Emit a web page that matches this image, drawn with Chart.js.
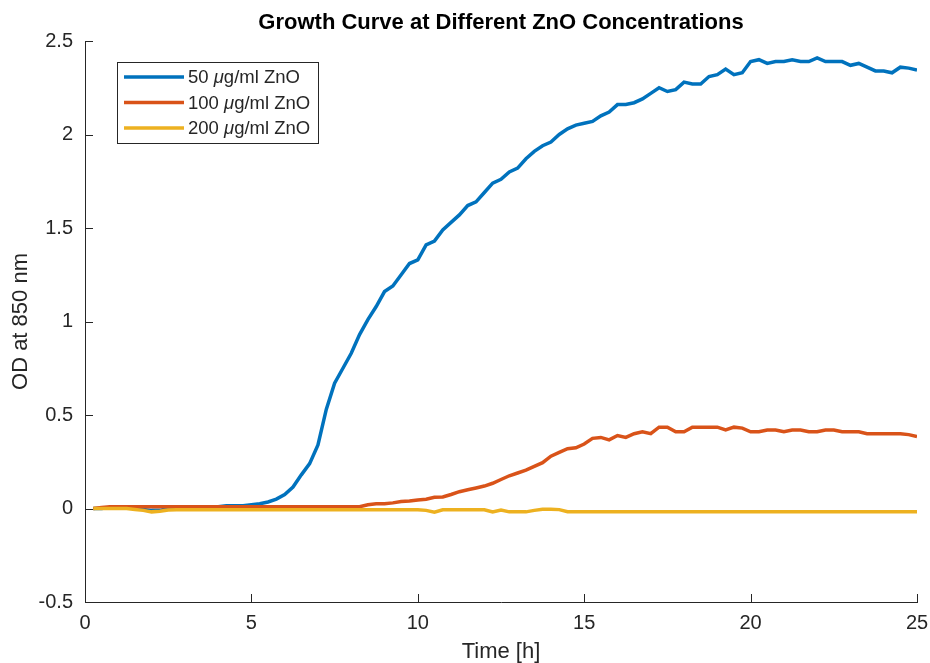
<!DOCTYPE html>
<html>
<head>
<meta charset="utf-8">
<title>Growth Curve</title>
<script src="https://cdn.jsdelivr.net/npm/chart.js@4/dist/chart.umd.min.js"></script>
<style>
    html, body { margin: 0; padding: 0; background: #fff; }
    #wrap { width: 930px; height: 663px; }
</style>
</head>
<body>
<div id="wrap"><canvas id="growthChart" width="930" height="663"></canvas></div>
<script>
// Sampling times (h), every 15 minutes
const hours = [
    0.25, 0.5, 0.75, 1, 1.25, 1.5, 1.75, 2, 2.25, 2.5,
    2.75, 3, 3.25, 3.5, 3.75, 4, 4.25, 4.5, 4.75, 5,
    5.25, 5.5, 5.75, 6, 6.25, 6.5, 6.75, 7, 7.25, 7.5,
    7.75, 8, 8.25, 8.5, 8.75, 9, 9.25, 9.5, 9.75, 10,
    10.25, 10.5, 10.75, 11, 11.25, 11.5, 11.75, 12, 12.25, 12.5,
    12.75, 13, 13.25, 13.5, 13.75, 14, 14.25, 14.5, 14.75, 15,
    15.25, 15.5, 15.75, 16, 16.25, 16.5, 16.75, 17, 17.25, 17.5,
    17.75, 18, 18.25, 18.5, 18.75, 19, 19.25, 19.5, 19.75, 20,
    20.25, 20.5, 20.75, 21, 21.25, 21.5, 21.75, 22, 22.25, 22.5,
    22.75, 23, 23.25, 23.5, 23.75, 24, 24.25, 24.5, 24.75, 25
];

// OD at 850 nm, 50 ug/ml ZnO
const od50 = [
    0, 0, 0.005, 0.01, 0.01, 0.005, -0.005, -0.01, -0.01, 0,
    0.005, 0.01, 0.01, 0.01, 0.01, 0.01, 0.015, 0.015, 0.015, 0.02,
    0.025, 0.035, 0.05, 0.075, 0.115, 0.18, 0.24, 0.34, 0.53, 0.67,
    0.75, 0.83, 0.93, 1.01, 1.08, 1.16, 1.19, 1.25, 1.31, 1.33,
    1.41, 1.43, 1.49, 1.53, 1.57, 1.62, 1.64, 1.69, 1.74, 1.76,
    1.80, 1.82, 1.87, 1.91, 1.94, 1.96, 2.00, 2.03, 2.05, 2.06,
    2.07, 2.10, 2.12, 2.16, 2.16, 2.17, 2.19, 2.22, 2.25, 2.23,
    2.24, 2.28, 2.27, 2.27, 2.31, 2.32, 2.35, 2.32, 2.33, 2.39,
    2.40, 2.38, 2.39, 2.39, 2.40, 2.39, 2.39, 2.41, 2.39, 2.39,
    2.39, 2.37, 2.38, 2.36, 2.34, 2.34, 2.33, 2.36, 2.355, 2.345
];

// OD at 850 nm, 100 ug/ml ZnO
const od100 = [
    0, 0.005, 0.01, 0.01, 0.01, 0.01, 0.01, 0.01, 0.01, 0.01,
    0.01, 0.01, 0.01, 0.01, 0.01, 0.01, 0.01, 0.01, 0.01, 0.01,
    0.01, 0.01, 0.01, 0.01, 0.01, 0.01, 0.01, 0.01, 0.01, 0.01,
    0.01, 0.01, 0.01, 0.02, 0.025, 0.025, 0.03, 0.037, 0.04, 0.046,
    0.05, 0.06, 0.062, 0.075, 0.09, 0.10, 0.11, 0.12, 0.135, 0.155,
    0.175, 0.19, 0.205, 0.225, 0.245, 0.28, 0.30, 0.32, 0.325, 0.345,
    0.375, 0.38, 0.367, 0.39, 0.38, 0.40, 0.41, 0.40, 0.435, 0.435,
    0.41, 0.41, 0.435, 0.435, 0.435, 0.435, 0.42, 0.435, 0.43, 0.41,
    0.41, 0.42, 0.42, 0.41, 0.42, 0.42, 0.41, 0.41, 0.42, 0.42,
    0.41, 0.41, 0.41, 0.40, 0.40, 0.40, 0.40, 0.40, 0.395, 0.385
];

// OD at 850 nm, 200 ug/ml ZnO
const od200 = [
    0, 0, 0, 0, 0, -0.005, -0.01, -0.018, -0.015, -0.008,
    -0.007, -0.007, -0.007, -0.007, -0.007, -0.007, -0.007, -0.007, -0.007, -0.007,
    -0.007, -0.007, -0.007, -0.007, -0.007, -0.007, -0.007, -0.007, -0.007, -0.007,
    -0.007, -0.007, -0.007, -0.007, -0.007, -0.007, -0.007, -0.007, -0.007, -0.007,
    -0.01, -0.02, -0.007, -0.007, -0.007, -0.007, -0.007, -0.007, -0.018, -0.008,
    -0.018, -0.018, -0.018, -0.01, -0.004, -0.004, -0.006, -0.017, -0.017, -0.017,
    -0.017, -0.017, -0.017, -0.017, -0.017, -0.017, -0.017, -0.017, -0.017, -0.017,
    -0.017, -0.017, -0.017, -0.017, -0.017, -0.017, -0.017, -0.017, -0.017, -0.017,
    -0.017, -0.017, -0.017, -0.017, -0.017, -0.017, -0.017, -0.017, -0.017, -0.017,
    -0.017, -0.017, -0.017, -0.017, -0.017, -0.017, -0.017, -0.017, -0.017, -0.017
];

const seriesDoses = ['50', '100', '200'];
const seriesColors = ['#0072BD', '#D95319', '#EDB120'];

const xTicks = [0, 5, 10, 15, 20, 25];
const yTicks = [-0.5, 0, 0.5, 1, 1.5, 2, 2.5];

const chartTitle = 'Growth Curve at Different ZnO Concentrations';

const AXIS_COLOR = '#262626';
const FONT = "'Liberation Sans', Arial, Helvetica, sans-serif";

document.addEventListener('DOMContentLoaded', function() {
    initGrowthChart();
});

function toPoints(values) {
    return values.map((v, i) => ({ x: hours[i], y: v }));
}

// Plain number labels: 2 rather than 2.0
function plainLabel(value) {
    return String(Math.round(value * 10) / 10);
}

// Title centred over the plot box rather than the whole canvas
const plotTitle = {
    id: 'plotTitle',
    afterDraw(chart) {
        const { ctx, chartArea } = chart;
        ctx.save();
        ctx.fillStyle = '#000';
        ctx.font = 'bold 22px ' + FONT;
        ctx.textAlign = 'center';
        ctx.textBaseline = 'middle';
        ctx.fillText(chartTitle, (chartArea.left + chartArea.right) / 2, chartArea.top - 18);
        ctx.restore();
    }
};

// Inward tick marks, drawn on the left and bottom axes only
const innerTicks = {
    id: 'innerTicks',
    afterDraw(chart) {
        const { ctx, chartArea, scales } = chart;
        const len = 8;
        ctx.save();
        ctx.strokeStyle = AXIS_COLOR;
        ctx.lineWidth = 1;
        ctx.beginPath();
        xTicks.forEach(t => {
            const px = Math.round(scales.x.getPixelForValue(t)) + 0.5;
            ctx.moveTo(px, chartArea.bottom);
            ctx.lineTo(px, chartArea.bottom - len);
        });
        yTicks.forEach(t => {
            const py = Math.round(scales.y.getPixelForValue(t)) + 0.5;
            ctx.moveTo(chartArea.left, py);
            ctx.lineTo(chartArea.left + len, py);
        });
        ctx.stroke();
        ctx.restore();
    }
};

// Boxed legend with an italic mu, as in a TeX label
const boxLegend = {
    id: 'boxLegend',
    afterDraw(chart) {
        const { ctx, chartArea } = chart;
        const left = chartArea.left + 32;
        const top = chartArea.top + 21;
        const rowH = 25.5;
        const lineLen = 60;
        const size = 18.5;

        ctx.save();
        ctx.fillStyle = '#fff';
        ctx.fillRect(left, top, 201, 81);
        ctx.strokeStyle = AXIS_COLOR;
        ctx.lineWidth = 1;
        ctx.strokeRect(left + 0.5, top + 0.5, 201, 81);

        ctx.textBaseline = 'middle';
        seriesDoses.forEach((dose, i) => {
            const y = top + 15 + i * rowH;
            ctx.strokeStyle = seriesColors[i];
            ctx.lineWidth = 3.5;
            ctx.beginPath();
            ctx.moveTo(left + 7, y);
            ctx.lineTo(left + 7 + lineLen, y);
            ctx.stroke();

            let x = left + 71;
            ctx.fillStyle = AXIS_COLOR;
            ctx.font = size + 'px ' + FONT;
            const head = dose + ' ';
            ctx.fillText(head, x, y + 1);
            x += ctx.measureText(head).width;
            ctx.font = 'italic ' + size + 'px ' + FONT;
            ctx.fillText('\u03bc', x, y + 1);
            x += ctx.measureText('\u03bc').width;
            ctx.font = size + 'px ' + FONT;
            ctx.fillText('g/ml ZnO', x, y + 1);
        });
        ctx.restore();
    }
};

function initGrowthChart() {
    const canvas = document.getElementById('growthChart');
    if (!canvas) return;

    Chart.defaults.font.family = FONT;
    Chart.defaults.color = AXIS_COLOR;

    const curves = [od50, od100, od200];

    new Chart(canvas, {
        type: 'line',
        data: {
            datasets: curves.map((values, i) => ({
                label: seriesDoses[i] + ' \u03bcg/ml ZnO',
                data: toPoints(values),
                borderColor: seriesColors[i],
                backgroundColor: seriesColors[i],
                borderWidth: 3.5,
                pointRadius: 0,
                tension: 0,
                fill: false,
                order: 3 - i
            }))
        },
        options: {
            responsive: false,
            animation: false,
            layout: {
                padding: { top: 41, right: 13, bottom: 0, left: 0 }
            },
            plugins: {
                legend: { display: false },
                tooltip: { enabled: false },
                title: { display: false }
            },
            scales: {
                x: {
                    type: 'linear',
                    min: 0,
                    max: 25,
                    afterBuildTicks: scale => {
                        scale.ticks = xTicks.map(v => ({ value: v }));
                    },
                    afterFit: scale => {
                        scale.height = 61;
                        scale.paddingLeft = 0;
                        scale.paddingRight = 0;
                    },
                    grid: { display: false, drawTicks: false },
                    border: { display: true, color: AXIS_COLOR, width: 1 },
                    ticks: {
                        padding: 9,
                        color: AXIS_COLOR,
                        font: { size: 20 },
                        maxRotation: 0,
                        callback: plainLabel
                    },
                    title: {
                        display: true,
                        text: 'Time [h]',
                        color: AXIS_COLOR,
                        font: { size: 22, lineHeight: 1 },
                        padding: { top: 0, bottom: 0 }
                    }
                },
                y: {
                    type: 'linear',
                    min: -0.5,
                    max: 2.5,
                    afterBuildTicks: scale => {
                        scale.ticks = yTicks.map(v => ({ value: v }));
                    },
                    afterFit: scale => {
                        scale.width = 85;
                        scale.paddingTop = 0;
                        scale.paddingBottom = 0;
                    },
                    grid: { display: false, drawTicks: false },
                    border: { display: true, color: AXIS_COLOR, width: 1 },
                    ticks: {
                        padding: 12,
                        color: AXIS_COLOR,
                        font: { size: 20 },
                        callback: plainLabel
                    },
                    title: {
                        display: true,
                        text: 'OD at 850 nm',
                        color: AXIS_COLOR,
                        font: { size: 22, lineHeight: 1 },
                        padding: { top: 10, bottom: 0 }
                    }
                }
            }
        },
        plugins: [innerTicks, boxLegend, plotTitle]
    });
}
</script>
</body>
</html>
